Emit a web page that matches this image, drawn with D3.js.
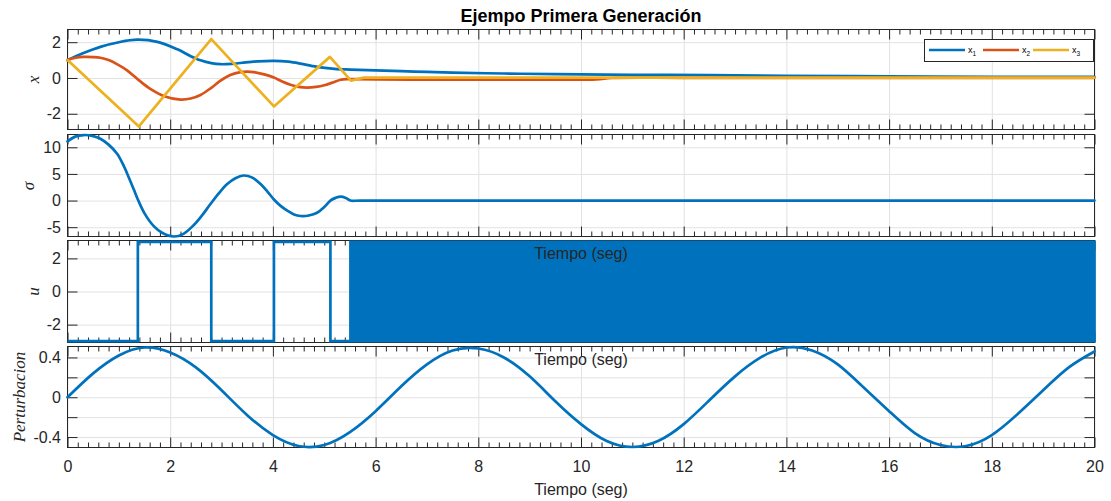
<!DOCTYPE html>
<html lang="es">
<head>
<meta charset="utf-8">
<title>Ejempo Primera Generación</title>
<script src="https://cdn.jsdelivr.net/npm/d3@7/dist/d3.min.js"></script>
<style>
  html, body { margin: 0; padding: 0; background: #fff; }
  svg { display: block; }
  text { font-family: "Liberation Sans", Arial, Helvetica, sans-serif; }
  text.math { font-family: "Liberation Serif", "DejaVu Serif", serif; font-style: italic; }
</style>
</head>
<body>
<svg id="chart" width="1111" height="501"></svg>
<script>
// ---------- time axis ----------
const timeDomain = [0, 20];
const timeMajorTicks = [0, 2, 4, 6, 8, 10, 12, 14, 16, 18, 20];
const timeMinorTicks = d3.range(0, 20.001, 0.2).filter(t => Math.abs(t / 2 - Math.round(t / 2)) > 1e-6);

// ---------- panel 1: states ----------
const tState1 = [0, 0.3, 0.64, 1.0, 1.36, 1.75, 2.14, 2.4, 2.59, 2.8, 2.98, 3.2, 3.4, 3.7, 4.02, 4.3, 4.54, 4.75, 4.93, 5.2, 5.51, 6.0, 6.5, 7.0, 7.5, 8.5, 9.5, 11, 12.5, 14, 16, 18, 20];
const state1  = [1.0, 1.38, 1.74, 2.0, 2.14, 2.02, 1.6, 1.22, 0.99, 0.83, 0.77, 0.79, 0.85, 0.93, 0.96, 0.91, 0.8, 0.68, 0.59, 0.51, 0.47, 0.42, 0.38, 0.34, 0.3, 0.25, 0.21, 0.18, 0.16, 0.12, 0.09, 0.07, 0.06];
const tState2 = [0, 0.16, 0.32, 0.5, 0.64, 0.8, 0.98, 1.16, 1.4, 1.62, 1.9, 2.2, 2.4, 2.59, 2.8, 2.98, 3.17, 3.37, 3.5, 3.63, 3.83, 4.02, 4.18, 4.34, 4.5, 4.67, 4.84, 5.0, 5.16, 5.32, 5.45, 5.6, 6.0, 7, 8, 9, 10.3, 10.6, 12, 14, 16, 18, 20];
const state2  = [1.0, 1.13, 1.18, 1.17, 1.13, 1.0, 0.75, 0.43, -0.15, -0.62, -1.03, -1.21, -1.15, -0.95, -0.55, -0.15, 0.17, 0.33, 0.36, 0.33, 0.2, 0.02, -0.2, -0.38, -0.5, -0.54, -0.5, -0.41, -0.26, -0.1, -0.06, -0.06, -0.08, -0.09, -0.09, -0.09, -0.08, 0.0, 0.01, 0.01, 0.01, 0.01, 0.01];
const tState3 = [0, 1.39, 2.80, 4.02, 5.11, 5.52, 5.77, 20];
const state3  = [1.0, -2.71, 2.17, -1.59, 1.18, -0.15, 0.02, 0.02];
const stateNames = ["1", "2", "3"];
const stateLimits = [-2.88, 2.71];
const stateTicks = [-2, 0, 2];

// ---------- panel 2: sliding surface ----------
const tSigma = [0, 0.15, 0.32, 0.5, 0.64, 0.8, 0.97, 1.1, 1.2, 1.29, 1.37, 1.5, 1.68, 1.85, 2.07, 2.25, 2.46, 2.62, 2.78, 2.95, 3.11, 3.27, 3.43, 3.6, 3.76, 3.9, 4.02, 4.15, 4.28, 4.41, 4.54, 4.7, 4.86, 5.0, 5.12, 5.22, 5.32, 5.42, 5.51, 5.7, 20];
const sigma  = [11.1, 12.0, 12.3, 12.1, 11.6, 10.5, 8.75, 6.4, 4.2, 2.1, 0.2, -2.4, -4.8, -6.1, -6.75, -6.3, -4.6, -2.8, -0.7, 1.4, 3.1, 4.2, 4.7, 4.3, 3.1, 1.6, 0.2, -1.0, -1.9, -2.6, -2.9, -2.8, -2.3, -1.2, 0.0, 0.5, 0.75, 0.5, 0.0, 0.0, 0.0];
const sigmaLimits = [-6.75, 12.4];
const sigmaTicks = [-5, 0, 5, 10];

// ---------- panel 3: control ----------
const tControl = [0, 1.37, 2.80, 4.02, 5.12, 5.51];
const control  = [-3, 3, -3, 3, -3, -3];
const chatterSpan = [5.51, 20];
const chatterBounds = [-3, 3];
const controlLimits = [-3.08, 3.08];
const controlTicks = [-2, 0, 2];

// ---------- panel 4: disturbance ----------
const tDist = [0, 0.5, 1, 1.5, 2, 2.5, 3, 3.5, 4, 4.5, 5, 5.5, 6, 6.5, 7, 7.5, 8, 8.5, 9, 9.5, 10,
               10.5, 11, 11.5, 12, 12.5, 13, 13.5, 14, 14.5, 15, 15.5, 16, 16.5, 17, 17.5, 18, 18.5, 19, 19.5, 20];
const dist  = [0, 0.24, 0.42, 0.50, 0.45, 0.30, 0.07, -0.18, -0.38, -0.49, -0.48, -0.35, -0.14, 0.11, 0.33, 0.47, 0.49, 0.40, 0.21, -0.04, -0.27,
               -0.44, -0.50, -0.44, -0.27, -0.03, 0.21, 0.40, 0.50, 0.47, 0.33, 0.10, -0.14, -0.36, -0.48, -0.49, -0.38, -0.17, 0.07, 0.30, 0.46];
const distLimits = [-0.505, 0.51];
const distTicks = [-0.4, -0.2, 0, 0.2, 0.4];
const distTickLabels = ["-0.4", "", "0", "", "0.4"];

// ---------- styling ----------
const BLUE = "#0072BD", ORANGE = "#D95319", YELLOW = "#EDB120";
const INK = "#262626", GRID = "#e2e2e2";
const LW = 2.7;
const X0 = 67.5, X1 = 1094.5;

const svg = d3.select("#chart");
svg.append("rect").attr("width", 1111).attr("height", 501).attr("fill", "#fff");

const x = d3.scaleLinear().domain(timeDomain).range([X0, X1]);

const pairs = (ts, vs) => ts.map((t, i) => [t, vs[i]]);

function makePanel(top, bottom, yLim, yTicks, yLabels, showXLabels) {
  const y = d3.scaleLinear().domain(yLim).range([bottom, top]);
  const h = bottom - top, w = X1 - X0;
  const g = svg.append("g");
  const clean = a => a.select(".domain").remove();

  // grid
  g.append("g").attr("transform", `translate(0,${bottom})`)
    .call(d3.axisBottom(x).tickValues(timeMajorTicks).tickSize(-h).tickFormat(""))
    .call(clean)
    .call(a => a.selectAll("line").attr("stroke", GRID));
  g.append("g").attr("transform", `translate(${X0},0)`)
    .call(d3.axisLeft(y).tickValues(yTicks).tickSize(-w).tickFormat(""))
    .call(clean)
    .call(a => a.selectAll("line").attr("stroke", GRID));

  // box
  g.append("rect").attr("x", X0).attr("y", top).attr("width", w).attr("height", h)
    .attr("fill", "none").attr("stroke", INK).attr("stroke-width", 1);

  const styleTicks = a => {
    a.selectAll("line").attr("stroke", INK);
    a.selectAll("text").attr("fill", INK).attr("font-size", 16);
    a.attr("font-family", null).attr("font-size", null);
  };

  // x ticks, bottom (major + minor) and top (major + minor)
  g.append("g").attr("transform", `translate(0,${bottom})`)
    .call(d3.axisBottom(x).tickValues(timeMajorTicks).tickSize(-10).tickPadding(13)
      .tickFormat(showXLabels ? d => String(d) : ""))
    .call(clean).call(styleTicks);
  g.append("g").attr("transform", `translate(0,${bottom})`)
    .call(d3.axisBottom(x).tickValues(timeMinorTicks).tickSize(-5).tickFormat(""))
    .call(clean).call(styleTicks);
  g.append("g").attr("transform", `translate(0,${top})`)
    .call(d3.axisTop(x).tickValues(timeMajorTicks).tickSize(-10).tickFormat(""))
    .call(clean).call(styleTicks);
  g.append("g").attr("transform", `translate(0,${top})`)
    .call(d3.axisTop(x).tickValues(timeMinorTicks).tickSize(-5).tickFormat(""))
    .call(clean).call(styleTicks);

  // y ticks, left (labelled) and right
  g.append("g").attr("transform", `translate(${X0},0)`)
    .call(d3.axisLeft(y).tickValues(yTicks).tickSize(-10).tickPadding(6.5)
      .tickFormat((d, i) => yLabels ? yLabels[i] : String(d)))
    .call(clean).call(styleTicks);
  g.append("g").attr("transform", `translate(${X1},0)`)
    .call(d3.axisRight(y).tickValues(yTicks).tickSize(-10).tickFormat(""))
    .call(clean).call(styleTicks);

  return y;
}

const yState   = makePanel(29.5, 129.5, stateLimits, stateTicks, null, false);
const ySigma   = makePanel(134.5, 236.5, sigmaLimits, sigmaTicks, null, false);
const yControl = makePanel(240.5, 342.5, controlLimits, controlTicks, null, false);
const yDist    = makePanel(346.5, 447.5, distLimits, distTicks, distTickLabels, true);

const smooth = d3.curveCatmullRom.alpha(0.5);
const plotLine = (y, data, color, curve) =>
  svg.append("path").datum(data)
    .attr("fill", "none").attr("stroke", color).attr("stroke-width", LW)
    .attr("stroke-linejoin", "round").attr("stroke-linecap", "round")
    .attr("d", d3.line().x(d => x(d[0])).y(d => y(d[1])).curve(curve));

// panel 1
plotLine(yState, pairs(tState1, state1), BLUE, smooth);
plotLine(yState, pairs(tState2, state2), ORANGE, smooth);
plotLine(yState, pairs(tState3, state3), YELLOW, d3.curveLinear);

// panel 2
plotLine(ySigma, pairs(tSigma, sigma), BLUE, smooth);

// panel 3: switching control, then the chattering band
plotLine(yControl, pairs(tControl, control), BLUE, d3.curveStepAfter)
  .attr("stroke-linecap", "butt").attr("stroke-linejoin", "miter");
svg.append("path").datum(chatterSpan)
  .attr("fill", BLUE).attr("stroke", BLUE).attr("stroke-width", LW)
  .attr("d", d3.area().x(d => x(d)).y0(yControl(chatterBounds[0])).y1(yControl(chatterBounds[1])));

// panel 4
plotLine(yDist, pairs(tDist, dist), BLUE, d3.curveNatural);

// legend
const legend = svg.append("g");
legend.append("rect").attr("x", 924.5).attr("y", 39.5).attr("width", 169).attr("height", 22)
  .attr("fill", "#fff").attr("stroke", INK).attr("stroke-width", 1);
const legendColors = [BLUE, ORANGE, YELLOW];
const legendX = [929, 983, 1033];
stateNames.forEach((name, i) => {
  legend.append("line").attr("x1", legendX[i]).attr("x2", legendX[i] + 36)
    .attr("y1", 50).attr("y2", 50).attr("stroke", legendColors[i]).attr("stroke-width", LW);
  const t = legend.append("text").attr("x", legendX[i] + 39).attr("y", 53)
    .attr("font-size", 9).attr("fill", "#000").text("x");
  t.append("tspan").attr("dy", 3).attr("font-size", 6.5).text(name);
});

// y labels (italic, serif)
const yLabel = (txt, cx, cy) =>
  svg.append("text").attr("class", "math")
    .attr("transform", `translate(${cx},${cy}) rotate(-90)`)
    .attr("text-anchor", "middle").attr("font-size", 17).attr("fill", INK).text(txt);
yLabel("x", 38.5, 79.5);
yLabel("σ", 33.5, 186);
yLabel("u", 38.5, 291.5);
yLabel("Perturbacion", 24.5, 397);

// x labels
const xLabel = yb => svg.append("text").attr("x", (X0 + X1) / 2).attr("y", yb)
  .attr("text-anchor", "middle").attr("font-size", 16).attr("fill", INK).text("Tiempo (seg)");
xLabel(258.5);
xLabel(365);
xLabel(494.5);

// title
svg.append("text").attr("x", (X0 + X1) / 2).attr("y", 22)
  .attr("text-anchor", "middle").attr("font-size", 18).attr("font-weight", "bold")
  .attr("fill", "#000").text("Ejempo Primera Generación");
</script>
</body>
</html>
